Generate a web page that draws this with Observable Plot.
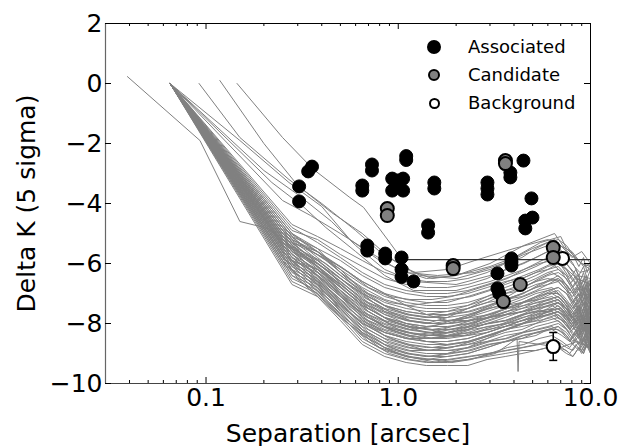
<!DOCTYPE html>
<html>
<head>
<meta charset="utf-8">
<script src="https://cdn.jsdelivr.net/npm/d3@7"></script>
<script src="https://cdn.jsdelivr.net/npm/@observablehq/plot@0.6"></script>
<style>
  body { margin: 0; background: #fff; }
  #wrap { position: relative; width: 639px; height: 446px; font-family: "DejaVu Sans", sans-serif; }
  .leg { position: absolute; left: 0; top: 0; }
  .leg .item { position: absolute; font-size: 18px; line-height: 18px; color: #000; white-space: nowrap; }
  .leg .mk { position: absolute; border-radius: 50%; box-sizing: border-box; border: 2px solid #000; }
</style>
</head>
<body>
<div id="wrap"></div>
<script>
// ---- data ----
const gridX = [0.065, 0.28, 0.38, 0.5, 0.65, 0.85, 1.1, 1.4, 1.8, 2.3, 2.9, 3.6, 4.4, 5.2, 6.0, 6.8, 7.5, 8.1, 8.7, 9.2, 9.6, 10.0];
// y values for gridX[1..] (all curves start at 0 at gridX[0])
const bandCurves = [
  [-4.7,-5.1,-5.5,-5.9,-6.3,-6.5,-6.6,-6.6,-6.5,-6.3,-6.0,-5.8,-5.5,-5.3,-5.2,-5.4,-5.7,-6.1,-5.8,-6.3,-6.0],
  [-4.9,-5.2,-5.7,-6.1,-6.5,-6.7,-6.8,-6.8,-6.7,-6.5,-6.2,-6.0,-5.8,-5.6,-5.5,-5.7,-6.0,-6.4,-6.1,-6.5,-6.2],
  [-4.8,-5.3,-5.8,-6.3,-6.7,-6.9,-7.0,-7.0,-6.9,-6.7,-6.5,-6.3,-6.1,-5.9,-5.8,-6.0,-6.3,-6.7,-6.3,-6.8,-6.5],
  [-5.1,-5.5,-5.9,-6.4,-6.8,-7.0,-7.1,-7.1,-7.0,-6.8,-6.6,-6.5,-6.3,-6.1,-6.0,-6.2,-6.6,-6.4,-6.9,-6.6,-7.0],
  [-5.0,-5.6,-6.1,-6.6,-7.0,-7.2,-7.3,-7.3,-7.1,-6.9,-6.7,-6.5,-6.3,-6.2,-6.1,-6.4,-6.8,-6.5,-7.0,-6.7,-7.2],
  [-5.2,-5.7,-6.2,-6.7,-7.1,-7.3,-7.4,-7.4,-7.3,-7.1,-6.9,-6.8,-6.6,-6.4,-6.3,-6.5,-6.9,-7.2,-6.8,-7.3,-6.9],
  [-5.3,-5.6,-6.3,-6.8,-7.2,-7.4,-7.5,-7.5,-7.4,-7.2,-7.0,-6.8,-6.6,-6.5,-6.6,-6.9,-7.1,-6.8,-7.4,-7.0,-7.3],
  [-5.1,-5.8,-6.4,-6.9,-7.3,-7.5,-7.6,-7.6,-7.5,-7.3,-7.2,-7.0,-6.8,-6.7,-6.5,-6.8,-7.2,-7.5,-7.0,-7.6,-7.2],
  [-5.4,-5.9,-6.5,-7.0,-7.4,-7.6,-7.7,-7.7,-7.6,-7.4,-7.2,-7.1,-6.9,-6.7,-6.6,-6.9,-7.3,-7.0,-7.5,-7.1,-7.6],
  [-5.5,-5.9,-6.5,-7.1,-7.5,-7.7,-7.8,-7.8,-7.7,-7.5,-7.4,-7.2,-7.0,-6.9,-6.8,-7.0,-7.4,-7.7,-7.3,-7.8,-7.4],
  [-5.3,-6.0,-6.6,-7.2,-7.6,-7.8,-7.9,-7.9,-7.8,-7.6,-7.4,-7.3,-7.1,-7.0,-6.9,-7.2,-7.5,-7.2,-7.7,-7.3,-7.8],
  [-5.6,-6.1,-6.7,-7.3,-7.7,-7.9,-8.0,-8.0,-7.9,-7.7,-7.5,-7.3,-7.2,-7.0,-7.0,-7.3,-7.6,-7.9,-7.5,-7.9,-7.6],
  [-5.7,-6.2,-6.8,-7.4,-7.8,-8.0,-8.1,-8.0,-7.8,-7.5,-7.2,-7.0,-6.8,-6.6,-6.5,-6.7,-7.0,-7.3,-6.9,-7.4,-7.1],
  [-5.4,-6.1,-6.8,-7.4,-7.8,-8.0,-8.1,-8.1,-8.0,-7.8,-7.7,-7.5,-7.4,-7.2,-7.1,-7.4,-7.7,-7.4,-7.9,-7.5,-8.0],
  [-5.8,-6.2,-6.9,-7.5,-7.9,-8.1,-8.2,-8.2,-8.1,-7.9,-7.7,-7.6,-7.4,-7.3,-7.2,-7.5,-7.8,-8.1,-7.7,-8.2,-7.8],
  [-5.5,-6.0,-6.6,-7.2,-7.7,-8.0,-8.2,-8.3,-8.2,-8.0,-7.9,-7.7,-7.6,-7.4,-7.3,-7.6,-7.9,-7.6,-8.0,-7.7,-8.1],
  [-5.9,-6.3,-7.0,-7.6,-8.0,-8.2,-8.3,-8.3,-8.2,-8.0,-7.8,-7.6,-7.5,-7.3,-7.2,-7.5,-7.9,-8.2,-7.8,-8.3,-7.9],
  [-5.6,-6.3,-7.0,-7.7,-8.1,-8.3,-8.4,-8.4,-8.3,-8.1,-8.0,-7.8,-7.7,-7.6,-7.4,-7.7,-8.0,-7.7,-8.2,-7.8,-8.3],
  [-6.0,-6.4,-7.1,-7.7,-8.1,-8.3,-8.4,-8.3,-8.1,-7.8,-7.5,-7.3,-7.1,-6.9,-6.8,-7.0,-7.3,-7.6,-7.2,-7.7,-7.3],
  [-5.7,-6.4,-7.1,-7.8,-8.2,-8.4,-8.5,-8.5,-8.4,-8.2,-8.1,-7.9,-7.8,-7.6,-7.5,-7.8,-8.1,-8.4,-8.0,-8.4,-8.1],
  [-6.1,-6.5,-7.2,-7.9,-8.3,-8.5,-8.6,-8.6,-8.5,-8.3,-8.1,-8.0,-7.8,-7.7,-7.6,-7.9,-8.2,-7.9,-8.3,-8.0,-8.4],
  [-5.8,-6.4,-7.0,-7.8,-8.3,-8.5,-8.6,-8.7,-8.6,-8.4,-8.2,-8.1,-8.0,-7.8,-7.7,-8.0,-8.3,-8.5,-8.1,-8.6,-8.2],
  [-6.2,-6.6,-7.3,-8.0,-8.4,-8.6,-8.7,-8.7,-8.6,-8.4,-8.2,-8.0,-7.9,-7.7,-7.6,-7.8,-8.1,-8.4,-8.0,-8.5,-8.1],
  [-5.9,-6.6,-7.3,-8.1,-8.5,-8.7,-8.8,-8.8,-8.7,-8.6,-8.4,-8.3,-8.1,-8.0,-7.9,-8.2,-8.5,-8.2,-8.6,-8.3,-8.7],
  [-6.3,-6.7,-7.4,-8.2,-8.6,-8.8,-8.9,-8.9,-8.8,-8.6,-8.5,-8.3,-8.2,-8.1,-8.0,-8.2,-8.5,-8.7,-8.3,-8.8,-8.4],
  [-6.0,-6.7,-7.5,-8.3,-8.7,-8.9,-9.0,-9.0,-8.9,-8.7,-8.6,-8.4,-8.3,-8.2,-8.1,-8.4,-8.7,-8.4,-8.8,-8.5,-8.9],
  [-6.4,-6.8,-7.6,-8.4,-8.8,-9.0,-9.1,-9.1,-9.0,-8.8,-8.6,-8.5,-8.4,-8.2,-8.2,-8.4,-8.7,-8.9,-8.5,-8.8,-8.6],
  [-6.5,-6.9,-7.7,-8.5,-8.9,-9.1,-9.2,-9.2,-9.1,-9.0,-8.9,-8.8,-8.7,-8.6,-8.6,-8.8,-8.9,-8.6,-8.9,-8.7,-8.9],
  [-6.6,-7.0,-7.8,-8.6,-9.0,-9.2,-9.3,-9.3,-9.2,-9.1,-9.0,-8.9,-8.9,-8.8,-8.8,-9.0,-9.1,-8.8,-9.0,-8.7,-8.9],
  [-6.7,-7.1,-7.9,-8.7,-9.1,-9.3,-9.4,-9.4,-9.4,-9.2,-9.1,-9.0,-8.9,-8.8,-8.8,-8.9,-9.1,-8.8,-9.0,-8.6,-8.8],
  [-5.0,-5.5,-6.3,-7.0,-7.6,-7.9,-8.0,-7.8,-7.5,-7.2,-6.9,-6.7,-6.5,-6.3,-6.2,-6.4,-6.8,-7.1,-6.7,-7.2,-6.8],
  [-5.3,-5.7,-6.1,-6.6,-7.0,-7.4,-7.7,-7.9,-7.9,-7.8,-7.6,-7.5,-7.3,-7.2,-7.1,-7.4,-7.8,-7.5,-7.9,-7.6,-8.0],
  [-6.1,-6.8,-7.4,-8.0,-8.3,-8.5,-8.5,-8.4,-8.2,-8.0,-7.9,-7.7,-7.5,-7.4,-7.3,-7.5,-7.8,-8.0,-7.7,-8.1,-7.8],
  [-5.6,-6.0,-6.5,-7.0,-7.4,-7.6,-7.7,-7.6,-7.4,-7.1,-6.8,-6.6,-6.4,-6.2,-6.0,-6.2,-6.5,-6.9,-6.5,-7.0,-6.6],
  [-6.2,-6.9,-7.5,-8.2,-8.7,-9.0,-9.1,-9.0,-8.8,-8.5,-8.2,-8.0,-7.8,-7.7,-7.6,-7.8,-8.1,-7.8,-8.2,-7.9,-8.3],
  [-5.9,-6.2,-6.7,-7.3,-7.8,-8.1,-8.3,-8.4,-8.4,-8.3,-8.1,-7.9,-7.8,-7.6,-7.5,-7.7,-8.0,-8.3,-7.9,-8.4,-8.0],
  [-5.2,-5.6,-6.2,-6.9,-7.4,-7.7,-7.8,-7.7,-7.5,-7.3,-7.0,-6.9,-6.7,-6.6,-6.4,-6.7,-7.0,-6.7,-7.2,-6.8,-7.3],
  [-6.4,-7.0,-7.7,-8.3,-8.8,-9.1,-9.2,-9.1,-9.0,-8.8,-8.6,-8.5,-8.3,-8.2,-8.1,-8.3,-8.6,-8.3,-8.7,-8.4,-8.8],
  [-5.5,-6.1,-6.9,-7.6,-8.1,-8.4,-8.6,-8.6,-8.5,-8.3,-8.1,-7.9,-7.7,-7.5,-7.3,-7.5,-7.8,-8.2,-7.8,-8.3,-7.9],
  [-5.8,-6.5,-7.2,-7.9,-8.4,-8.7,-8.9,-8.8,-8.7,-8.5,-8.3,-8.2,-8.0,-7.9,-7.8,-8.0,-8.4,-8.1,-8.5,-8.1,-8.6]
];
// a second set of curves sampled on a shifted grid
const gridX2 = [0.065, 0.25, 0.32, 0.42, 0.55, 0.7, 0.9, 1.15, 1.5, 1.9, 2.4, 3.0, 3.7, 4.5, 5.4, 6.3, 7.1, 7.8, 8.4, 9.0, 9.5, 10.0];
const bandCurves2 = [
  [-5.0,-5.6,-6.0,-6.6,-7.1,-7.5,-7.7,-7.8,-7.7,-7.6,-7.4,-7.2,-7.0,-6.7,-6.5,-6.6,-7.0,-6.8,-7.3,-7.0,-7.4],
  [-5.4,-6.0,-6.7,-7.3,-7.8,-8.2,-8.4,-8.5,-8.4,-8.2,-8.1,-8.0,-7.8,-7.6,-7.5,-7.7,-8.0,-7.7,-8.1,-7.8,-8.2],
  [-4.9,-5.4,-5.9,-6.5,-7.0,-7.3,-7.4,-7.3,-7.2,-7.1,-6.9,-6.6,-6.4,-6.2,-6.0,-6.3,-6.7,-6.4,-6.9,-6.5,-7.0],
  [-5.6,-6.3,-6.9,-7.6,-8.1,-8.5,-8.7,-8.8,-8.7,-8.6,-8.4,-8.2,-8.0,-7.9,-7.8,-8.0,-8.3,-8.1,-8.4,-8.0,-8.5],
  [-5.2,-5.9,-6.5,-7.2,-7.7,-8.0,-8.2,-8.1,-7.9,-7.7,-7.5,-7.3,-7.1,-6.9,-6.8,-7.1,-7.4,-7.1,-7.6,-7.3,-7.7],
  [-5.8,-6.4,-7.1,-7.8,-8.4,-8.8,-9.0,-9.1,-9.0,-8.9,-8.7,-8.6,-8.4,-8.3,-8.2,-8.4,-8.6,-8.3,-8.7,-8.4,-8.8],
  [-5.1,-5.7,-6.2,-6.8,-7.3,-7.6,-7.8,-7.9,-7.9,-7.8,-7.7,-7.5,-7.4,-7.2,-7.0,-7.2,-7.6,-7.3,-7.8,-7.4,-7.9],
  [-5.5,-6.1,-6.8,-7.5,-8.0,-8.3,-8.5,-8.5,-8.4,-8.3,-8.2,-8.0,-7.9,-7.7,-7.6,-7.9,-8.2,-7.9,-8.3,-8.0,-8.4],
  [-5.3,-5.8,-6.4,-7.0,-7.5,-7.9,-8.1,-8.2,-8.1,-8.0,-7.8,-7.6,-7.3,-7.1,-6.9,-7.1,-7.5,-7.2,-7.7,-7.3,-7.6],
  [-5.9,-6.6,-7.3,-8.0,-8.6,-9.0,-9.2,-9.3,-9.2,-9.1,-9.0,-8.8,-8.7,-8.5,-8.4,-8.6,-8.8,-8.5,-8.9,-8.6,-9.0],
  [-5.0,-5.5,-6.1,-6.7,-7.2,-7.6,-7.9,-8.0,-7.9,-7.7,-7.4,-7.1,-6.8,-6.5,-6.3,-6.5,-6.9,-6.6,-7.1,-6.8,-7.2],
  [-5.7,-6.2,-6.9,-7.6,-8.2,-8.6,-8.8,-8.9,-8.9,-8.8,-8.6,-8.5,-8.3,-8.2,-8.1,-8.3,-8.6,-8.2,-8.6,-8.3,-8.7],
  [-5.2,-5.7,-6.3,-6.9,-7.4,-7.7,-7.9,-8.0,-8.0,-7.9,-7.8,-7.7,-7.6,-7.5,-7.4,-7.6,-7.9,-7.6,-8.0,-7.7,-8.1],
  [-5.6,-6.2,-6.8,-7.4,-7.9,-8.2,-8.4,-8.3,-8.1,-7.9,-7.7,-7.5,-7.3,-7.2,-7.1,-7.3,-7.7,-7.4,-7.8,-7.5,-7.9],
  [-6.0,-6.5,-7.2,-7.9,-8.5,-8.9,-9.1,-9.2,-9.3,-9.2,-9.0,-8.9,-8.8,-8.7,-8.6,-8.8,-9.0,-8.7,-9.0,-8.7,-9.0],
  [-4.8,-5.3,-5.8,-6.3,-6.8,-7.1,-7.2,-7.2,-7.1,-6.9,-6.7,-6.5,-6.2,-6.0,-5.9,-6.1,-6.5,-6.2,-6.7,-6.4,-6.8],
  [-5.4,-6.0,-6.6,-7.3,-7.8,-8.1,-8.3,-8.4,-8.3,-8.1,-7.9,-7.7,-7.6,-7.4,-7.3,-7.5,-7.9,-7.6,-8.0,-7.7,-8.1],
  [-5.1,-5.6,-6.2,-6.9,-7.5,-7.9,-8.1,-8.2,-8.2,-8.1,-8.0,-7.9,-7.7,-7.6,-7.6,-7.8,-8.1,-7.8,-8.2,-7.9,-8.3],
  [-5.8,-6.3,-7.0,-7.7,-8.3,-8.7,-8.9,-8.9,-8.8,-8.6,-8.4,-8.2,-8.0,-7.8,-7.7,-7.9,-8.2,-7.9,-8.3,-8.0,-8.4],
  [-5.3,-5.9,-6.5,-7.1,-7.6,-8.0,-8.2,-8.3,-8.2,-8.0,-7.8,-7.6,-7.4,-7.3,-7.2,-7.4,-7.8,-7.5,-7.9,-7.6,-8.0]
];
// curves with their own sampling (upper curves, late starts, spike)
const specialX = [
  [0.039,0.093,0.15,0.21,0.3,0.45,0.7,1.0,1.5,2.2,3.5,5.0,7.0,8.5,10.0],
  [0.092,0.15,0.27,0.4,0.6,0.8,1.0,1.3,2.0,3.0,4.5,6.0,7.5,8.8,10.0],
  [0.118,0.2,0.3,0.45,0.65,0.9,1.2,1.8,2.5,4.0,6.0,8.0,9.2,10.0],
  [0.145,0.25,0.36,0.56,0.66,0.91,1.15,1.5,2.0,3.0,4.5,6.5,7.0,8.0,9.0,10.0],
  [0.065,0.15,0.27,0.4,0.56,0.8,1.1,1.6,2.5,3.5,5.0,6.5,7.5,9.0,10.0],
  [0.065,0.2,0.3,0.45,0.6,0.85,1.2,2.0,3.0,4.5,6.0,7.0,8.5,10.0],
  [0.065,0.22,0.32,0.42,0.6,0.85,1.2,2.0,3.0,4.5,6.0,7.0,8.5,10.0],
  [0.065,0.25,0.35,0.5,0.7,1.0,1.4,2.0,3.0,4.0,5.5,7.0,7.5,9.0,10.0],
  [0.065,0.3,0.5,0.8,1.1,1.6,2.3,3.2,4.15,4.2,4.25,5.5,7.0,8.5,10.0]
];
const specialY = [
  [0.23,-1.9,-4.6,-4.83,-5.6,-6.5,-7.6,-8.2,-8.5,-8.4,-8.0,-7.6,-7.5,-7.9,-7.8],
  [0.0,-1.8,-3.2,-4.0,-4.9,-5.6,-6.0,-6.4,-6.5,-6.2,-5.7,-5.4,-5.8,-6.3,-6.2],
  [0.1,-2.0,-3.4,-4.3,-5.0,-5.8,-6.3,-6.2,-5.9,-5.5,-5.2,-5.6,-6.1,-6.0],
  [0.0,-1.8,-2.85,-3.8,-4.13,-5.33,-6.23,-6.5,-6.4,-6.0,-5.4,-5.0,-5.3,-5.8,-5.6,-6.0],
  [0.0,-1.9,-3.3,-4.1,-5.2,-5.9,-6.3,-6.4,-6.3,-6.0,-5.5,-5.2,-5.6,-6.0,-6.1],
  [0.0,-2.9,-3.7,-4.6,-5.4,-6.2,-6.6,-6.7,-6.4,-6.0,-5.6,-5.8,-6.4,-6.5],
  [0.0,-3.3,-4.1,-4.8,-5.6,-6.4,-6.9,-6.9,-6.6,-6.2,-5.8,-6.0,-6.5,-6.7],
  [0.0,-3.9,-4.4,-5.0,-5.6,-6.2,-6.5,-6.4,-6.1,-5.8,-5.3,-5.1,-5.5,-6.0,-6.2],
  [0.0,-6.5,-7.8,-8.8,-9.1,-9.3,-9.2,-9.0,-8.5,-9.6,-8.6,-8.7,-8.8,-8.6,-8.8]
];
const limitX = [1.1, 10.0];
const limitY = [-5.87, -5.87];

const assocX = [0.305,0.305,0.34,0.356,0.65,0.65,0.73,0.73,0.93,0.93,1.0,1.06,1.06,1.1,1.1,1.54,1.54,1.43,1.43,0.69,0.69,0.855,0.855,1.04,1.04,1.04,1.2,2.91,2.91,2.91,3.83,3.83,4.48,4.93,4.99,4.58,4.58,3.88,3.88,3.88,3.28,3.28,3.35];
const assocY = [-3.43,-3.93,-2.93,-2.77,-3.4,-3.57,-2.7,-2.9,-3.17,-3.57,-3.23,-3.17,-3.57,-2.42,-2.55,-3.3,-3.5,-4.73,-4.97,-5.4,-5.57,-5.67,-5.83,-5.8,-6.2,-6.45,-6.6,-3.3,-3.5,-3.7,-2.97,-3.13,-2.57,-3.83,-4.47,-4.57,-4.83,-5.83,-5.95,-6.07,-6.33,-6.83,-7.0];
const candX = [0.877,0.877,1.93,1.93,3.61,3.61,3.52,4.31,6.4,6.4];
const candY = [-4.17,-4.4,-6.07,-6.17,-2.57,-2.67,-7.27,-6.7,-5.47,-5.8];
const bgX = [7.15,6.4];
const bgY = [-5.83,-8.77];
const bgErrLo = [null,-9.23];
const bgErrHi = [null,-8.3];

const xTicks = [0.1, 1, 10];
const xMinor = [0.04,0.05,0.06,0.07,0.08,0.09,0.2,0.3,0.4,0.5,0.6,0.7,0.8,0.9,2,3,4,5,6,7,8,9];
const yTicks = [-10,-8,-6,-4,-2,0,2];
const legendLabels = ["Associated","Candidate","Background"];
const legendFills = ["#000000","#808080","#ffffff"];
const legendSizes = [14,12,11];

// ---- tables ----
const lines = [];
function addGridCurves(grid, curves, tag) {
  curves.forEach((ys, i) => {
    lines.push({x: grid[0], y: 0, id: tag + i});
    ys.forEach((y, j) => lines.push({x: grid[j + 1], y, id: tag + i}));
  });
}
addGridCurves(gridX, bandCurves, "a");
addGridCurves(gridX2, bandCurves2, "b");
specialX.forEach((xs, i) => xs.forEach((x, j) => lines.push({x, y: specialY[i][j], id: "s" + i})));
const limit = limitX.map((x, i) => ({x, y: limitY[i]}));
const assoc = assocX.map((x, i) => ({x, y: assocY[i]}));
const cand = candX.map((x, i) => ({x, y: candY[i]}));
const bg = bgX.map((x, i) => ({x, y: bgY[i], lo: bgErrLo[i], hi: bgErrHi[i]}));
const err = bg.filter(d => d.lo != null);
const errCaps = err.flatMap(d => [{x: d.x, y: d.lo}, {x: d.x, y: d.hi}]);

const W = 639, H = 446, mL = 105, mR = 49, mT = 23, mB = 63;
const frameH = H - mT - mB, frameW = W - mL - mR;
const fmtY = d => d < 0 ? "\u2212" + Math.abs(d) : String(d);
const capSymbol = { draw(ctx, size) { const w = 4; ctx.moveTo(-w, 0); ctx.lineTo(w, 0); } };

const chart = Plot.plot({
  width: W, height: H,
  marginLeft: mL, marginRight: mR, marginTop: mT, marginBottom: mB,
  style: {fontFamily: "DejaVu Sans, sans-serif", fontSize: "25px", color: "#000", background: "#fff"},
  x: {type: "log", domain: [0.03, 10], label: null},
  y: {domain: [-10, 2], label: null},
  marks: [
    Plot.line(lines, {x: "x", y: "y", z: "id", stroke: "#808080", strokeWidth: 1}),
    Plot.line(limit, {x: "x", y: "y", stroke: "#333333", strokeWidth: 1.2}),
    Plot.ruleX(err, {x: "x", y1: "lo", y2: "hi", stroke: "#000", strokeWidth: 1.5}),
    Plot.dot(errCaps, {x: "x", y: "y", symbol: capSymbol, stroke: "#000", strokeWidth: 1.5, r: 4}),
    Plot.dot(assoc, {x: "x", y: "y", r: 6.5, fill: "#000", stroke: "#000", strokeWidth: 1}),
    Plot.dot(bg, {x: "x", y: "y", r: 6.5, fill: "#fff", stroke: "#000", strokeWidth: 2}),
    Plot.dot(cand, {x: "x", y: "y", r: 6.5, fill: "#808080", stroke: "#000", strokeWidth: 2}),
    Plot.frame({stroke: "#000", strokeWidth: 1}),
    Plot.ruleX([0.03], {stroke: "#666", strokeWidth: 1.2}),
    Plot.ruleY([-10], {stroke: "#444", strokeWidth: 1.2}),
    // inward ticks
    Plot.tickX(xTicks, {x: d => d, insetTop: frameH - 6, stroke: "#000"}),
    Plot.tickX(xTicks, {x: d => d, insetBottom: frameH - 6, stroke: "#000"}),
    Plot.tickX(xMinor, {x: d => d, insetTop: frameH - 3, stroke: "#000"}),
    Plot.tickX(xMinor, {x: d => d, insetBottom: frameH - 3, stroke: "#000"}),
    Plot.tickY(yTicks, {y: d => d, insetRight: frameW - 6, stroke: "#000"}),
    Plot.tickY(yTicks, {y: d => d, insetLeft: frameW - 6, stroke: "#000"}),
    Plot.axisX({ticks: xTicks, tickSize: 0, tickPadding: 5, tickFormat: d => d.toFixed(1), label: null, fontSize: 25}),
    Plot.axisY({ticks: yTicks, tickSize: 0, tickPadding: 3, tickFormat: fmtY, label: null, fontSize: 25}),
    Plot.text(["Separation [arcsec]"], {frameAnchor: "bottom", dy: 50, text: d => d, fontSize: 25, lineAnchor: "middle", textAnchor: "middle"}),
    Plot.text(["Delta K (5 sigma)"], {frameAnchor: "left", dx: -79, rotate: -90, text: d => d, fontSize: 25, lineAnchor: "middle", textAnchor: "middle"})
  ]
});

const wrap = document.getElementById("wrap");
wrap.appendChild(chart);

// legend overlay (top-right inside the frame)
const leg = document.createElement("div");
leg.className = "leg";
legendLabels.forEach((lab, i) => {
  const cy = 47 + i * 28;
  const s = legendSizes[i];
  const mk = document.createElement("div");
  mk.className = "mk";
  mk.style.width = s + "px";
  mk.style.height = s + "px";
  mk.style.left = (434 - s / 2) + "px";
  mk.style.top = (cy - s / 2) + "px";
  mk.style.background = legendFills[i];
  leg.appendChild(mk);
  const t = document.createElement("div");
  t.className = "item";
  t.textContent = lab;
  t.style.left = "468px";
  t.style.top = (cy - 9) + "px";
  leg.appendChild(t);
});
wrap.appendChild(leg);
</script>
</body>
</html>
